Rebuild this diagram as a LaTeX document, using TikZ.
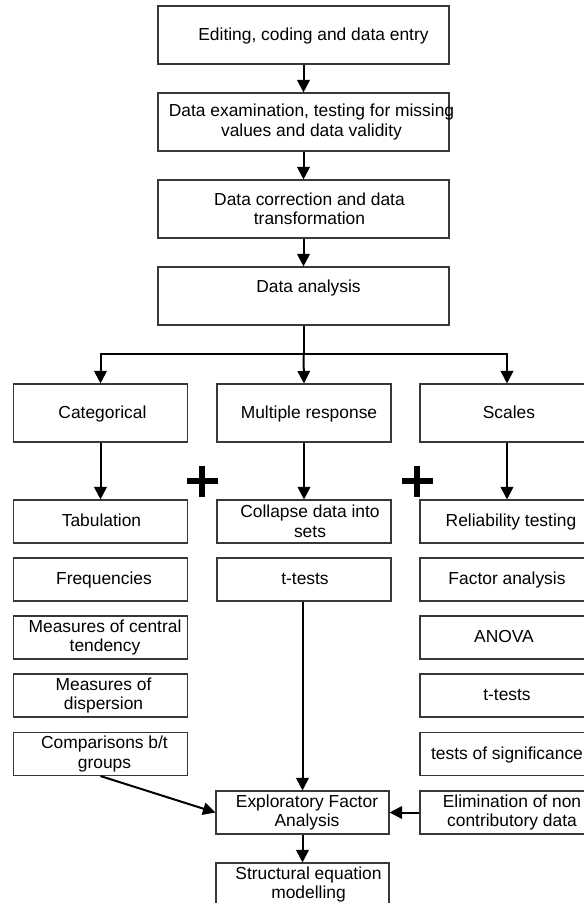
\documentclass[tikz,border=0pt]{standalone}
\usepackage{fontspec}
\setmainfont{Liberation Sans}
\usetikzlibrary{arrows.meta}
\begin{document}
\begin{tikzpicture}[x=1pt, y=-1pt,
  box/.style={draw=black!78, line width=1.1pt, inner sep=0pt, fill=white},
  wide/.style={box, minimum width=291pt, minimum height=58pt},
  cat/.style={box, minimum width=174pt, minimum height=58pt},
  cell/.style={box, minimum width=174pt, minimum height=43pt},
  txt/.style={inner sep=0pt, align=center, font=\fontsize{17.4}{19.5}\selectfont},
  line1/.style={txt, text height=12.4pt, text depth=2pt},
  link/.style={line width=2pt, -{Triangle[length=12.5pt, width=12.5pt]}},
  wire/.style={line width=2pt},
  plus/.style={line width=6.5pt}
]
\useasboundingbox (0,0) rectangle (584,903);
\clip (0,0) rectangle (584,903);

% main pipeline
\node[wide] (edit) at (303.5,35) {};
\node[line1, xshift=10pt] (editT) at (edit) {Editing, coding and data entry};
\node[wide] (exam) at (303.5,122) {};
\node[txt, xshift=8pt] (examT) at (exam) {Data examination, testing for missing\\values and data validity};
\node[wide] (corr) at (303.5,209) {};
\node[txt, xshift=6pt] (corrT) at (corr) {Data correction and data\\transformation};
\node[wide] (anal) at (303.5,296) {};
\node[line1, xshift=5pt, yshift=9pt] (analT) at (anal) {Data analysis};

\draw[link] (edit) -- (exam);
\draw[link] (exam) -- (corr);
\draw[link] (corr) -- (anal);

% three kinds of variables
\node[cat] (categ) at (100.5,413) {};
\node[line1, xshift=2pt] (categT) at (categ) {Categorical};
\node[cat] (multi) at (304,413) {};
\node[line1, xshift=5pt] (multiT) at (multi) {Multiple response};
\node[cat] (scale) at (507,413) {};
\node[line1, xshift=2pt] (scaleT) at (scale) {Scales};

\coordinate (split) at (303.5,354);
\draw[wire] (anal.south) -- (split);
\draw[link] (split) -- (multi.north);
\draw[link] (split) -| (categ.north);
\draw[link] (split) -| (scale.north);

% categorical column
\node[cell] (tab) at (100.5,521.5) {};
\node[line1, xshift=1pt] (tabT) at (tab) {Tabulation};
\node[cell] (freq) at (100.5,579.5) {};
\node[line1, xshift=3.5pt] (freqT) at (freq) {Frequencies};
\node[cell] (cent) at (100.5,637.5) {};
\node[txt, xshift=4.5pt] (centT) at (cent) {Measures of central\\tendency};
\node[cell] (disp) at (100.5,695.5) {};
\node[txt, xshift=3pt] (dispT) at (disp) {Measures of\\dispersion};
\node[cell] (comp) at (100.5,754) {};
\node[txt, xshift=4pt] (compT) at (comp) {Comparisons b/t\\groups};

% multiple response column
\node[cell] (coll) at (304,521.5) {};
\node[txt, xshift=6pt] (collT) at (coll) {Collapse data into\\sets};
\node[cell] (ttm) at (304,579.5) {};
\node[line1, xshift=1pt] (ttmT) at (ttm) {t-tests};

% scales column
\node[cell] (rel) at (507,521.5) {};
\node[line1, xshift=4pt] (relT) at (rel) {Reliability testing};
\node[cell] (fac) at (507,579.5) {};
\node[line1] (facT) at (fac) {Factor analysis};
\node[cell] (anova) at (507,637.5) {};
\node[line1, xshift=-3pt] (anovaT) at (anova) {ANOVA};
\node[cell] (tts) at (507,695.5) {};
\node[line1] (ttsT) at (tts) {t-tests};
\node[cell] (sig) at (507,754) {};
\node[line1] (sigT) at (sig) {tests of significance};
\node[cell] (elim) at (507,812.5) {};
\node[txt, xshift=5pt] (elimT) at (elim) {Elimination of non\\contributory data};

\draw[link] (categ) -- (tab);
\draw[link] (multi) -- (coll);
\draw[link] (scale) -- (rel);

% plus signs between the columns
\draw[plus] (187,481) -- (218,481);
\draw[plus] (202,465.5) -- (202,496.5);
\draw[plus] (402,481) -- (433,481);
\draw[plus] (417,465.5) -- (417,496.5);

% factor analysis and modelling
\node[cell, minimum width=173pt] (efa) at (302.5,812.5) {};
\node[txt, xshift=4.5pt] (efaT) at (efa) {Exploratory Factor\\Analysis};
\node[cell, minimum width=173pt] (sem) at (302.5,884.5) {};
\node[txt, xshift=6pt] (semT) at (sem) {Structural equation\\modelling};

\draw[link] (ttm.south -| efa.north) -- (efa.north);
\draw[link] (comp.south) -- (efa.west);
\draw[link] (elim.west) -- (efa.east);
\draw[link] (efa) -- (sem);
\end{tikzpicture}
\end{document}
